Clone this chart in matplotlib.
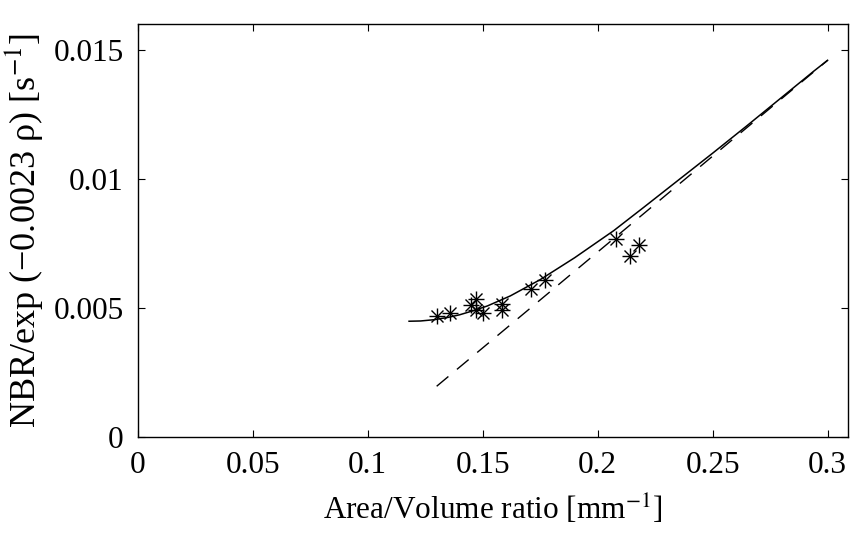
import matplotlib
matplotlib.use("Agg")
import matplotlib.pyplot as plt

# measured points (asterisks)
pts_x = [0.130, 0.136, 0.145, 0.147, 0.147, 0.150, 0.1585, 0.1585, 0.171, 0.177, 0.208, 0.214, 0.218]
pts_y = [0.00468, 0.00480, 0.00510, 0.00534, 0.00491, 0.00480, 0.00514, 0.00491, 0.00572, 0.00607, 0.00766, 0.00700, 0.00746]

# fitted curve (solid)
fit_x = [0.118, 0.123, 0.129, 0.135, 0.140, 0.146, 0.152, 0.162, 0.175, 0.190, 0.207,
         0.220, 0.235, 0.250, 0.265, 0.280, 0.294, 0.300]
fit_y = [0.00449, 0.00450, 0.00455, 0.00464, 0.00474, 0.00490, 0.00508, 0.00547, 0.00610, 0.00695, 0.00800,
         0.00890, 0.00995, 0.01100, 0.01207, 0.01316, 0.01418, 0.01460]

# linear line (dashed)
lin_x = [0.130, 0.300]
lin_y = [0.00197, 0.01460]

xticks = [0, 0.05, 0.1, 0.15, 0.2, 0.25, 0.3]
xticklabels = ["0", "0.05", "0.1", "0.15", "0.2", "0.25", "0.3"]
yticks = [0, 0.005, 0.01, 0.015]
yticklabels = ["0", "0.005", "0.01", "0.015"]

plt.rcParams['font.family'] = ['Liberation Serif', 'DejaVu Serif']
plt.rcParams['mathtext.fontset'] = 'stix'

fig = plt.figure(figsize=(8.5, 5.37), dpi=100)
ax = fig.add_axes([0.162, 0.186, 0.836, 0.769])

ax.plot(fit_x, fit_y, color='black', lw=1.1)
ax.plot(lin_x, lin_y, color='black', lw=1.0, linestyle=(0, (11, 8)))
ax.plot(pts_x, pts_y, linestyle='none', marker='+', color='black', markersize=11, markeredgewidth=1.0)
ax.plot(pts_x, pts_y, linestyle='none', marker='x', color='black', markersize=8, markeredgewidth=1.0)

ax.set_xlim(0, 0.309)
ax.set_ylim(0, 0.016)
ax.set_xticks(xticks)
ax.set_xticklabels(xticklabels)
ax.set_yticks(yticks)
ax.set_yticklabels(yticklabels)
ax.tick_params(direction='in', length=5, width=0.8, top=True, right=True, labelsize=22.5, pad=10)
for s in ax.spines.values():
    s.set_linewidth(1.0)

ax.set_xlabel('Area/Volume ratio [mm$^{-1}$]', fontsize=22.5, labelpad=9)
ax.set_ylabel('NBR/exp (\u22120.0023 \u03c1) [s$^{-1}$]', fontsize=26, labelpad=6)

fig.savefig('out.png', dpi=100)
